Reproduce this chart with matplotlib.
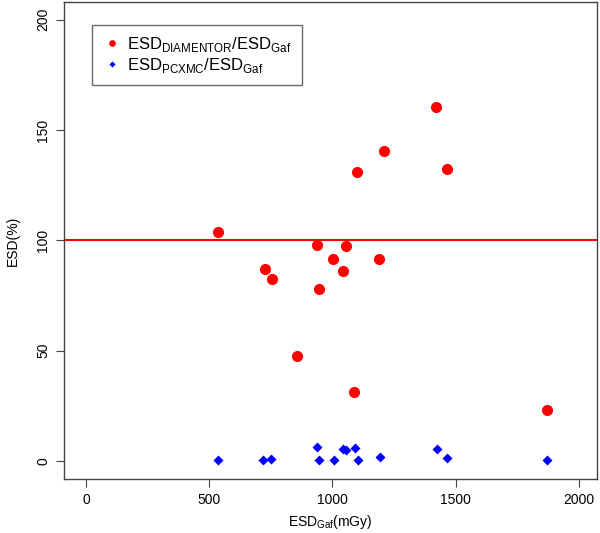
import matplotlib.pyplot as plt

plt.rcParams['font.family'] = ['Liberation Sans', 'DejaVu Sans']
plt.rcParams['mathtext.fontset'] = 'custom'
plt.rcParams['mathtext.rm'] = 'Liberation Sans'

# ESD ratio data
x_diam = [534, 726, 753, 857, 938, 946, 1003, 1041, 1053, 1089, 1101, 1187, 1210, 1421, 1463, 1871]
y_diam = [103.9, 87, 82.6, 47.8, 98, 77.8, 91.7, 86, 97.6, 31.2, 131.1, 91.7, 140.7, 160.5, 132.4, 23.3]

x_pcx = [537, 719, 751, 937, 945, 1006, 1044, 1055, 1090, 1103, 1191, 1423, 1465, 1871]
y_pcx = [0.6, 0.6, 0.9, 6.5, 0.3, 0.5, 5.6, 5.0, 5.8, 0.6, 2.0, 5.3, 1.4, 0.3]

xticks = [0, 500, 1000, 1500, 2000]
yticks = [0, 50, 100, 150, 200]

fig = plt.figure(figsize=(6, 5.33), dpi=100)
ax = fig.add_axes([0.107, 0.102, 0.888, 0.894])

ax.axhline(100, color='#ff0000', lw=1.5, zorder=1)
ax.plot(x_diam, y_diam, 'o', color='#ff0000', ms=8, mec='none', zorder=3,
        label=r'ESD$_{\mathrm{DIAMENTOR}}$/ESD$_{\mathrm{Gaf}}$')
ax.plot(x_pcx, y_pcx, 'D', color='#0000ff', ms=5.2, mec='none', zorder=3,
        label=r'ESD$_{\mathrm{PCXMC}}$/ESD$_{\mathrm{Gaf}}$')

ax.set_xlim(-88, 2073)
ax.set_ylim(-8, 208)
ax.set_xticks(xticks)
ax.set_yticks(yticks)
ax.tick_params(direction='out', length=6, width=0.8, color='#444444', labelsize=10, pad=4)
for lab in ax.get_yticklabels():
    lab.set_rotation(90)
    lab.set_va('center')
for s in ax.spines.values():
    s.set_color('#444444')
    s.set_linewidth(1)

ax.set_xlabel(r'ESD$_{\mathrm{Gaf}}$(mGy)', fontsize=10, labelpad=5)
ax.set_ylabel('ESD(%)', fontsize=10, labelpad=12)

leg = ax.legend(loc='upper left', bbox_to_anchor=(0.053, 0.952), borderaxespad=0,
                fontsize=12, frameon=True, fancybox=False, edgecolor='#444444',
                handletextpad=0.3, borderpad=0.6, labelspacing=0.1, handlelength=1.2,
                markerscale=0.6)
leg.get_frame().set_linewidth(1)

fig.savefig('out.png', dpi=100)
